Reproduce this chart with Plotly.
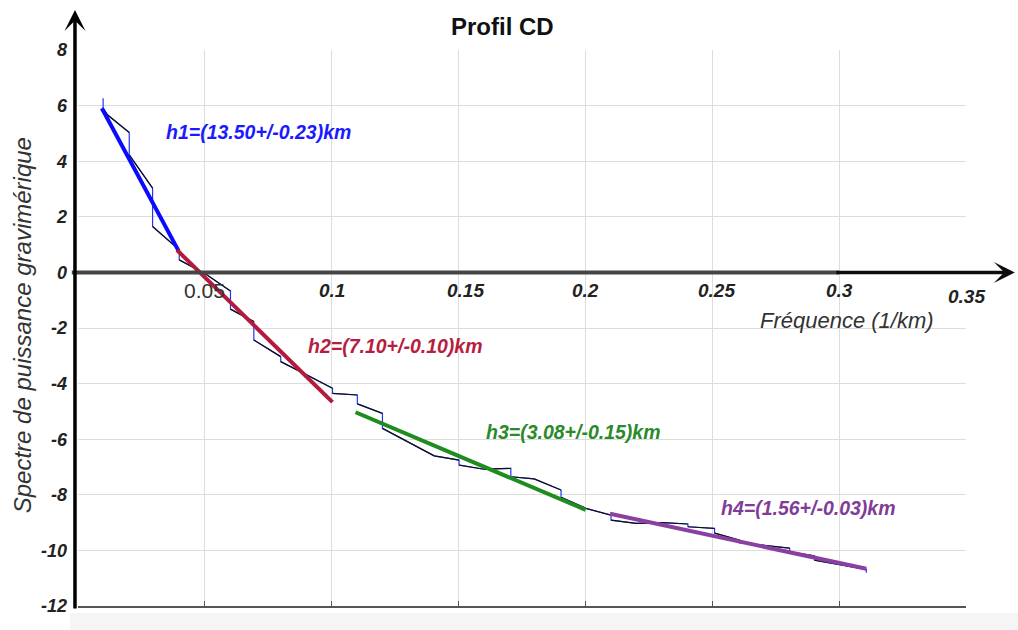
import math
import plotly.graph_objects as go

# Radially averaged power spectrum (log scale) versus frequency, profile CD
freq = [0.0099, 0.0099, 0.0117, 0.0202, 0.0202, 0.0294, 0.0294, 0.0399, 0.0399, 0.0503,
        0.0601, 0.0601, 0.0693, 0.0693, 0.0799, 0.0799, 0.0904, 0.1003, 0.1003, 0.1101,
        0.1101, 0.1200, 0.1200, 0.1299, 0.1404, 0.1502, 0.1502, 0.1601, 0.1706, 0.1706,
        0.1798, 0.1904, 0.1904, 0.2002, 0.2101, 0.2101, 0.2200, 0.2305, 0.2404, 0.2404,
        0.2509, 0.2509, 0.2607, 0.2607, 0.2706, 0.2805, 0.2805, 0.2903, 0.2903, 0.3009,
        0.3107, 0.3107]
power = [6.26, 5.90, 5.66, 5.03, 4.23, 3.03, 1.65, 0.81, 0.45, -0.06,
         -0.67, -1.32, -1.77, -2.43, -3.03, -3.21, -3.69, -4.17, -4.35, -4.41,
         -4.73, -5.07, -5.61, -6.09, -6.60, -6.75, -6.93, -7.08, -7.05, -7.35,
         -7.43, -7.83, -8.09, -8.49, -8.73, -8.91, -9.03, -9.00, -9.05, -9.15,
         -9.21, -9.38, -9.63, -9.72, -9.82, -9.92, -10.05, -10.20, -10.35, -10.53,
         -10.68, -10.80]

# Linear fits: slope = -4*pi*h, one per depth source
seg_names = ["h1", "h2", "h3", "h4"]
seg_depth = [13.50, 7.10, 3.08, 1.56]
seg_err = [0.23, 0.10, 0.15, 0.03]
seg_intercept = [7.50, 4.284, -0.796, -4.57]
seg_f_start = [0.0094, 0.0390, 0.1094, 0.2097]
seg_f_end = [0.0397, 0.1003, 0.2001, 0.3107]
seg_colors = ["#0a0aff", "#b31b3c", "#1e8c1e", "#8a3fa3"]
label_colors = ["#1a1aff", "#b51e3e", "#2a8a2a", "#7f3c98"]
label_f = [0.0337, 0.0898, 0.1600, 0.2527]
label_p = [5.05, -2.64, -5.74, -8.48]

x_ticks = [0.05, 0.1, 0.15, 0.2, 0.25, 0.3, 0.35]
x_tick_text = ["0.05", "0.1", "0.15", "0.2", "0.25", "0.3", "0.35"]
x_tick_shift = [0, 0, 7, 0, 4, 0, 0]
y_ticks = [8, 6, 4, 2, 0, -2, -4, -6, -8, -10, -12]

FONT = "Liberation Sans, Arial, sans-serif"

fig = go.Figure()

# spectrum: blue polyline under black sloped pieces (vertical jumps remain blue)
fig.add_trace(go.Scatter(x=freq, y=power, mode="lines",
                         line=dict(color="#2233ff", width=1.2), hoverinfo="skip"))
bx, by = [], []
for i in range(len(freq) - 1):
    if freq[i] == freq[i + 1]:
        bx.append(None)
        by.append(None)
        continue
    bx += [freq[i], freq[i + 1]]
    by += [power[i], power[i + 1]]
fig.add_trace(go.Scatter(x=bx, y=by, mode="lines",
                         line=dict(color="#111111", width=1.2), hoverinfo="skip"))

# fitted straight segments
for h, b, f0, f1, c in zip(seg_depth, seg_intercept, seg_f_start, seg_f_end, seg_colors):
    k = -4 * math.pi * h
    fig.add_trace(go.Scatter(x=[f0, f1], y=[b + k * f0, b + k * f1], mode="lines",
                             line=dict(color=c, width=4), hoverinfo="skip"))

annotations = []
for n, h, e, fx, py, c in zip(seg_names, seg_depth, seg_err, label_f, label_p, label_colors):
    annotations.append(dict(
        x=fx, y=py, xref="x", yref="y", xanchor="left", yanchor="middle",
        text=f"{n}=({h:.2f}+/-{e:.2f})km", showarrow=False,
        font=dict(family=FONT, size=19.5, color=c, weight="bold", style="italic")))

# frequency tick labels along the zero line
for v, t, xs in zip(x_ticks, x_tick_text, x_tick_shift):
    if t == "0.05":
        fnt = dict(family=FONT, size=21, color="#333333")
        shift = -18
    else:
        fnt = dict(family=FONT, size=19, color="#222222", weight="bold", style="italic")
        shift = -24 if t == "0.35" else -18
    annotations.append(dict(x=v, y=0, xref="x", yref="y", xanchor="center", yanchor="middle",
                            xshift=xs, yshift=shift, text=t, showarrow=False, font=fnt))

# axis arrows
annotations.append(dict(x=-0.0034, y=1.072, xref="paper", yref="paper",
                        ax=0, ay=600, axref="pixel", ayref="pixel", text="",
                        showarrow=True, arrowhead=3, arrowsize=1, arrowwidth=3.5,
                        arrowcolor="#000000"))
annotations.append(dict(x=1.055, y=0, xref="paper", yref="y",
                        ax=-180, ay=0, text="", showarrow=True, arrowhead=3,
                        arrowsize=1, arrowwidth=3.5, arrowcolor="#0d0d0d"))

# titles
annotations.append(dict(x=0.4786, y=1.0414, xref="paper", yref="paper",
                        xanchor="center", yanchor="middle", text="Profil CD",
                        showarrow=False,
                        font=dict(family=FONT, size=24, color="#111111", weight="bold")))
annotations.append(dict(x=-0.063, y=0.505, xref="paper", yref="paper",
                        xanchor="center", yanchor="middle", textangle=-90,
                        text="Spectre de puissance gravimérique", showarrow=False,
                        font=dict(family=FONT, size=24, color="#333333", style="italic")))
annotations.append(dict(x=0.866, y=0.514, xref="paper", yref="paper",
                        xanchor="center", yanchor="middle", text="Fréquence (1/km)",
                        showarrow=False,
                        font=dict(family=FONT, size=22, color="#333333", style="italic")))

shapes = [
    # light strip below the frame
    dict(type="rect", xref="paper", yref="paper", x0=-0.009, x1=1.06, y0=-0.0432, y1=-0.0126,
         fillcolor="#f5f5f5", line=dict(width=0), layer="below"),
    # grey part of the zero line
    dict(type="line", xref="paper", yref="y", x0=-0.007, x1=0.857, y0=0, y1=0,
         line=dict(color="#454545", width=4)),
]

fig.update_layout(
    width=1018, height=630,
    margin=dict(l=78, r=52, t=50, b=24),
    paper_bgcolor="white", plot_bgcolor="white",
    showlegend=False,
    annotations=annotations, shapes=shapes,
    xaxis=dict(range=[0, 0.35], tickvals=x_ticks, showticklabels=False,
               showgrid=True, gridcolor="#dddddd", gridwidth=1, zeroline=False,
               showline=True, linecolor="#555555", linewidth=1.5,
               ticks="inside", ticklen=5, tickcolor="#555555"),
    yaxis=dict(range=[-12, 8], tickvals=y_ticks, ticktext=[str(v) for v in y_ticks],
               showgrid=True, gridcolor="#dddddd", gridwidth=1, zeroline=False,
               showline=False, ticks="", ticklabelstandoff=10,
               tickfont=dict(family=FONT, size=18, color="#222222",
                             weight="bold", style="italic")),
)

fig.write_html("out.html")
